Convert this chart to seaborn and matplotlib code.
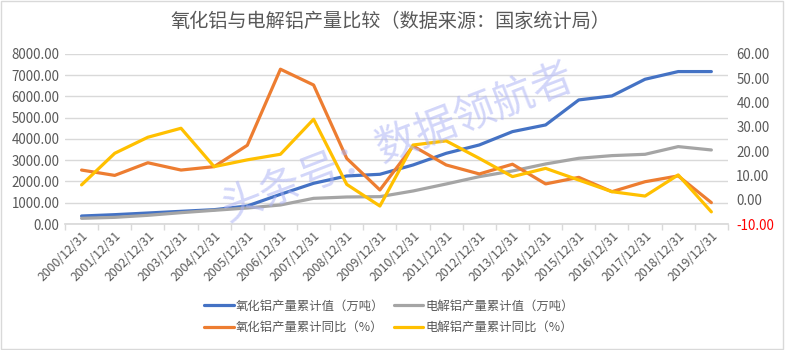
import matplotlib
matplotlib.use("Agg")
import matplotlib.pyplot as plt
import seaborn as sns
import pandas as pd
from matplotlib.ticker import FormatStrFormatter

years = ["2000/12/31", "2001/12/31", "2002/12/31", "2003/12/31", "2004/12/31",
         "2005/12/31", "2006/12/31", "2007/12/31", "2008/12/31", "2009/12/31",
         "2010/12/31", "2011/12/31", "2012/12/31", "2013/12/31", "2014/12/31",
         "2015/12/31", "2016/12/31", "2017/12/31", "2018/12/31", "2019/12/31"]
alumina_total = [376, 439, 517, 596, 674, 847, 1397, 1914, 2259, 2338,
                 2776, 3325, 3718, 4345, 4659, 5835, 6024, 6808, 7169, 7169]
aluminium_total = [267, 313, 408, 533, 644, 753, 894, 1207, 1270, 1286,
                   1553, 1882, 2227, 2494, 2824, 3090, 3216, 3278, 3640, 3482]
alumina_yoy = [12.2, 10.0, 15.2, 12.2, 13.6, 22.4, 53.7, 47.2, 17.0, 4.0,
               22.1, 14.3, 10.6, 14.6, 6.5, 9.2, 3.3, 7.4, 9.8, -1.2]
aluminium_yoy = [6.1, 19.1, 25.7, 29.4, 13.6, 16.4, 18.7, 33.1, 6.3, -2.6,
                 22.5, 24.2, 17.0, 9.5, 12.9, 8.1, 3.3, 1.5, 10.2, -5.0]

names = ["氧化铝产量累计值（万吨）", "电解铝产量累计值（万吨）",
         "氧化铝产量累计同比（%）", "电解铝产量累计同比（%）"]
colors = ["#4472C4", "#A5A5A5", "#ED7D31", "#FFC000"]
title = "氧化铝与电解铝产量比较（数据来源：国家统计局）"
watermark = "头条号：数据领航者"

sns.set_theme(style="white")
plt.rcParams['font.family'] = ['Noto Sans CJK SC', 'DejaVu Sans']

df = pd.DataFrame({"x": list(range(len(years))),
                   "a": alumina_total, "b": aluminium_total,
                   "c": alumina_yoy, "d": aluminium_yoy})

fig = plt.figure(figsize=(7.85, 3.5), dpi=100)
ax = fig.add_axes([0.0828, 0.36, 0.8445, 0.486])
ax2 = ax.twinx()

tc = "#595959"
lw = 2.3
sns.lineplot(data=df, x="x", y="a", ax=ax, color=colors[0], lw=lw, label=names[0], legend=False)
sns.lineplot(data=df, x="x", y="b", ax=ax, color=colors[1], lw=lw, label=names[1], legend=False)
sns.lineplot(data=df, x="x", y="c", ax=ax2, color=colors[2], lw=lw, label=names[2], legend=False)
sns.lineplot(data=df, x="x", y="d", ax=ax2, color=colors[3], lw=lw, label=names[3], legend=False)

ax.set_xlim(-0.5, len(years) - 0.5)
ax.set_ylim(0, 8000)
ax.set_yticks(range(0, 8001, 1000))
ax.yaxis.set_major_formatter(FormatStrFormatter("%.2f"))
ax2.set_ylim(-10, 60)
ax2.set_yticks(range(-10, 61, 10))
ax2.yaxis.set_major_formatter(FormatStrFormatter("%.2f"))

ax.grid(axis="y", color="#D9D9D9", lw=1)
ax.set_axisbelow(True)
for a in (ax, ax2):
    for s in a.spines.values():
        s.set_visible(False)
    a.set_xlabel("")
    a.set_ylabel("")
ax.spines["bottom"].set_visible(True)
ax.spines["bottom"].set_color("#D9D9D9")

ax.set_xticks([i - 0.5 for i in range(len(years) + 1)], minor=True)
ax.set_xticks(range(len(years)))
ax.set_xticklabels(years, rotation=45, ha="right", rotation_mode="anchor",
                   fontsize=8.8, color=tc)
ax.tick_params(axis="x", which="major", length=0, pad=4)
ax.tick_params(axis="x", which="minor", length=4, color="#D9D9D9", bottom=True)
ax.tick_params(axis="y", length=0, labelsize=9.6, labelcolor=tc, pad=4)
ax2.tick_params(axis="y", length=0, labelsize=9.6, labelcolor=tc, pad=6)
fig.canvas.draw()
for lab in ax2.get_yticklabels():
    if lab.get_text().startswith("-") or lab.get_text().startswith("\u2212"):
        lab.set_color("red")

fig.text(0.497, 0.94, title, ha="center", va="center", fontsize=13.8, color=tc)

h1, l1 = ax.get_legend_handles_labels()
h2, l2 = ax2.get_legend_handles_labels()
handles = [h1[0], h2[0], h1[1], h2[1]]
labels = [l1[0], l2[0], l1[1], l2[1]]
fig.legend(handles, labels, ncol=2, loc="center", bbox_to_anchor=(0.4955, 0.095),
           frameon=False, fontsize=8.9, labelcolor=tc, handlelength=2.4,
           columnspacing=0.75, handletextpad=0.15, labelspacing=0.7)

fig.text(0.507, 0.59, watermark, ha="center", va="center", rotation=21,
         fontsize=30, color="#AEB4F5", alpha=0.55, zorder=10)

fig.patches.append(plt.Rectangle((0.001, 0.002), 0.997, 0.995, transform=fig.transFigure,
                                 fill=False, edgecolor="#D9D9D9", lw=1))
fig.savefig("out.png", dpi=100)
